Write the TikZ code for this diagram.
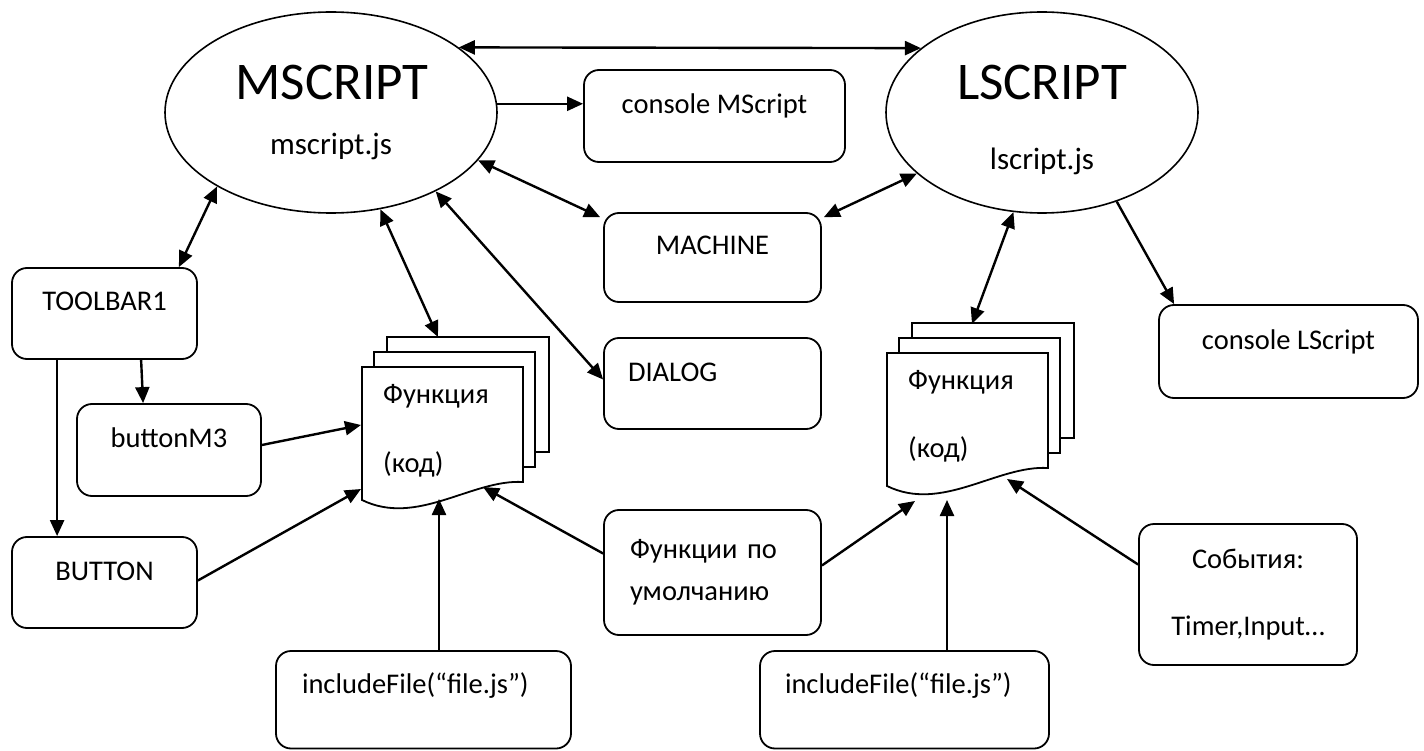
\documentclass[tikz,border=0pt]{standalone}
\usepackage{fontspec}
\setmainfont{Carlito}
\usetikzlibrary{shapes.geometric, arrows.meta}

\begin{document}
\begin{tikzpicture}[x=1pt, y=-1pt,
    script/.style={draw, ellipse, line width=1.6pt, minimum width=332pt, minimum height=201pt, inner sep=0pt},
    title/.style={anchor=base, inner sep=0pt, font=\fontsize{53}{60}\selectfont},
    jsfile/.style={anchor=base, inner sep=0pt, font=\fontsize{31}{36}\selectfont},
    frame/.style={draw, rounded corners=15pt, line width=1.8pt, font=\fontsize{28.5}{34}\selectfont},
    box/.style={frame, text height=20pt, text depth=25pt},
    page/.style={draw, fill=white, line width=1.8pt},
    pagetext/.style={anchor=base west, inner sep=0pt, font=\fontsize{28.5}{34}\selectfont},
    arr/.style={line width=2.4pt, -{Triangle[length=16pt, width=14pt]}},
    darr/.style={line width=2.4pt, {Triangle[length=16pt, width=14pt]}-{Triangle[length=16pt, width=14pt]}},
]
    \useasboundingbox (0,0) rectangle (1424,751);

    % the two scripts
    \node[script] (M) at (331,112.5) {};
    \node[title]  (Mname) at (332,100) {MSCRIPT};
    \node[jsfile] (Mfile) at (331,155) {mscript.js};
    \node[script, minimum width=312pt] (L) at (1042,112.5) {};
    \node[title]  (Lname) at (1042,100) {LSCRIPT};
    \node[jsfile] (Lfile) at (1042,170) {lscript.js};

    % boxes
    \node[box, minimum width=261pt, minimum height=92pt] (cm)   at (714.5,116)   {console MScript};
    \node[box, minimum width=217pt, minimum height=89pt] (mach) at (712.5,257.5) {MACHINE};
    \node[box, text width=169pt, align=left, inner xsep=24pt, minimum height=91pt]
        (dlg) at (712.5,383.5) {DIALOG};
    \node[box, minimum width=185pt, minimum height=91pt] (tb)   at (104.5,313.5) {TOOLBAR1};
    \node[box, minimum width=184pt, minimum height=92pt] (b3)   at (169,450)     {buttonM3};
    \node[box, minimum width=185pt, minimum height=91pt] (bt)   at (104.5,582.5) {BUTTON};
    \node[box, minimum width=259pt, minimum height=93pt] (cl)   at (1288.5,351.5) {console LScript};
    \node[box, text width=243pt, align=left, inner xsep=26pt, text depth=33pt, minimum height=97.5pt]
        (inc1) at (423.5,699.75) {includeFile(“file.js”)};
    \node[box, text width=239pt, align=left, inner xsep=25pt, text depth=33pt, minimum height=97.5pt]
        (inc2) at (904.5,699.75) {includeFile(“file.js”)};
    \node[frame, font=\fontsize{28.5}{42}\selectfont, text width=165pt, align=left, inner xsep=26pt, minimum height=125pt]
        (fn) at (712.5,572.5) {Функции по\\умолчанию};
    \node[frame, font=\fontsize{28.5}{67}\selectfont, align=center, minimum width=218pt, minimum height=141pt]
        (ev) at (1248,594.5) {События:\\Timer,Input…};

    % function pages, left
    \begin{scope}[shift={(362,367)}]
        \draw[page] (25,-30) rectangle (187,85);
        \draw[page] (12,-15) rectangle (173,100);
        \draw[page] (0,0) -- (161,0) -- (161,115)
            .. controls (110,112) and (55,160) .. (0,133) -- cycle;
        \node[pagetext] (f1name) at (21,36)  {Функция};
        \node[pagetext] (f1code) at (21,105) {(код)};
        \coordinate (f1top)  at (76,-30);
        \coordinate (f1bot)  at (77,132);
        \coordinate (f1wave) at (121,120);
        \coordinate (f1left) at (-1,58);
        \coordinate (f1low)  at (-1,122);
    \end{scope}

    % function pages, right
    \begin{scope}[shift={(887,353)}]
        \draw[page] (25,-30) rectangle (187,85);
        \draw[page] (12,-15) rectangle (173,100);
        \draw[page] (0,0) -- (161,0) -- (161,115)
            .. controls (110,112) and (55,160) .. (0,133) -- cycle;
        \node[pagetext] (f2name) at (21,36)  {Функция};
        \node[pagetext] (f2code) at (21,104) {(код)};
        \coordinate (f2top)  at (85,-29);
        \coordinate (f2bot)  at (60,147);
        \coordinate (f2fn)   at (28,148);
        \coordinate (f2ev)   at (120,126);
    \end{scope}

    % connectors
    \draw[darr] (M.27) -- (L.152);
    \draw[arr]  (M.3) -- (M.3 -| cm.west);
    \draw[darr] (M.213) -- ([xshift=-19pt]tb.north east);
    \draw[darr] (M.297) -- (f1top);
    \draw[darr] (M.342) -- ([xshift=-3pt, yshift=-5pt]mach.north west);
    \draw[darr] ([xshift=2pt, yshift=-5pt]mach.north east) -- (L.206);
    \draw[darr] (M.323) -- ([yshift=4pt]dlg.west);
    \draw[darr] (L.254) -- (f2top);
    \draw[arr]  (L.310) -- ([xshift=16pt]cl.north west);

    \draw[arr] ([xshift=46pt]tb.south west) -- ([xshift=46pt]bt.north west);
    \draw[arr] ([xshift=130pt]tb.south west) -- ([xshift=67pt]b3.north west);
    \draw[arr] ([yshift=5pt]b3.east) -- (f1left);
    \draw[arr] ([yshift=2pt]bt.east) -- (f1low);

    \draw[arr] (inc1.north -| f1bot) -- (f1bot);
    \draw[arr] ([yshift=19pt]fn.west) -- (f1wave);
    \draw[arr] ([yshift=7pt]fn.east) -- (f2fn);
    \draw[arr] (inc2.north -| f2bot) -- (f2bot);
    \draw[arr] ([yshift=30pt]ev.west) -- (f2ev);
\end{tikzpicture}
\end{document}
